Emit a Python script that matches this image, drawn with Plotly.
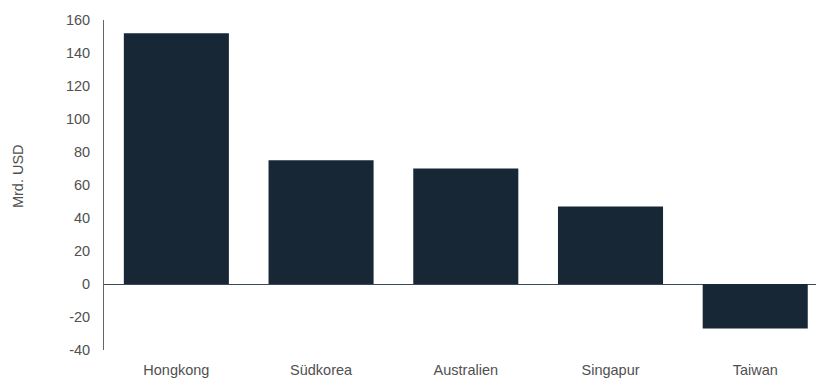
import plotly.graph_objects as go

categories = ["Hongkong", "Südkorea", "Australien", "Singapur", "Taiwan"]
values = [152, 75, 70, 47, -27]
y_ticks = [-40, -20, 0, 20, 40, 60, 80, 100, 120, 140, 160]
y_ticktext = [str(v).replace("−", "-") for v in y_ticks]
y_title = "Mrd. USD"

fig = go.Figure(go.Bar(
    x=categories, y=values,
    marker=dict(color="#172736", line=dict(width=0)),
    width=0.726,
))

font = dict(family="Liberation Sans, Arial, sans-serif", size=14.5, color="#505050")

fig.update_layout(
    width=816, height=378,
    margin=dict(l=104, r=0, t=20, b=26),
    paper_bgcolor="white", plot_bgcolor="white",
    font=font,
    showlegend=False,
    xaxis=dict(
        range=[-0.5, 4.42],
        showline=False, showgrid=False, zeroline=False,
        ticks="", ticklabelstandoff=9,
        tickfont=font,
    ),
    yaxis=dict(
        range=[-40, 160],
        tickvals=y_ticks, ticktext=y_ticktext,
        showgrid=False,
        showline=True, linecolor="#666666", linewidth=1,
        zeroline=True, zerolinecolor="#3a4a5a", zerolinewidth=1,
        ticks="", ticklabelstandoff=10,
        tickfont=font,
    ),
    annotations=[dict(
        text=y_title, textangle=-90, showarrow=False,
        xref="paper", yref="paper",
        x=(18 - 104) / 712, y=(352 - 177) / 332,
        xanchor="center", yanchor="middle",
        font=font,
    )],
)

fig.write_html("out.html")
